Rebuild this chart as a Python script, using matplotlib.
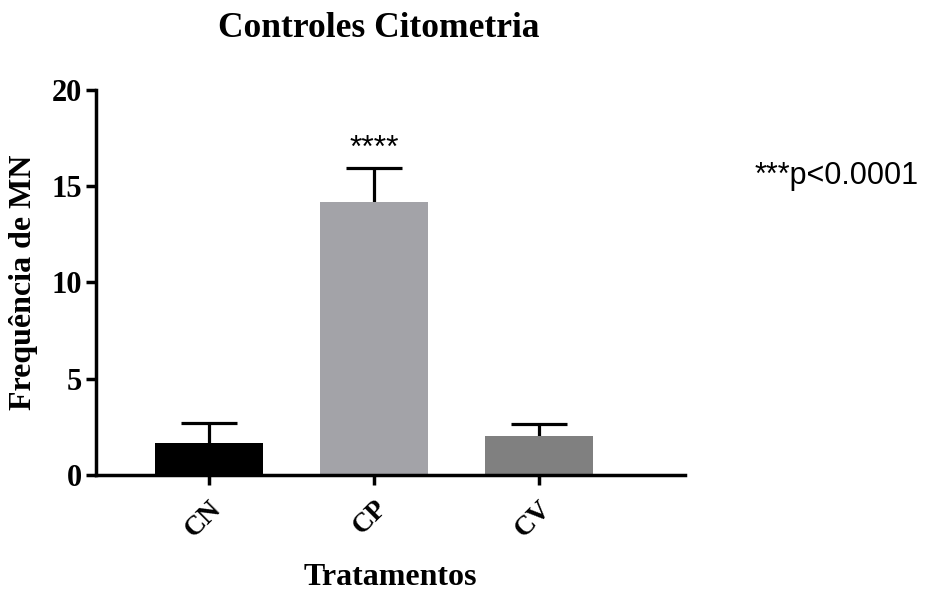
import matplotlib
matplotlib.use("Agg")
import matplotlib.pyplot as plt

# dados
grupos = ["CN", "CP", "CV"]
medias = [1.66, 14.18, 2.03]
erros = [1.05, 1.78, 0.62]
cores = ["#000000", "#a3a3a8", "#808080"]

serif = ["Liberation Serif", "DejaVu Serif"]
sans = ["Liberation Sans", "DejaVu Sans"]

fig = plt.figure(figsize=(9.25, 5.91), dpi=100)
ax = fig.add_axes([0.1038, 0.1963, 0.6367, 0.6514])

x = list(range(len(grupos)))
# barra desenhada por cima, esconde a metade de baixo do erro
ax.errorbar(x, medias, yerr=erros, fmt="none",
            ecolor="black", elinewidth=2.3, capsize=20, capthick=2.3, zorder=1)
ax.bar(x, medias, width=0.66, color=cores, zorder=2)

ax.set_xlim(-0.685, 2.885)
ax.set_ylim(0, 20)
ax.set_yticks([0, 5, 10, 15, 20])
ax.set_xticks(x)
ax.set_xticklabels(grupos, rotation=45, ha="right", va="top",
                   rotation_mode="anchor",
                   fontfamily=serif, fontweight="bold", fontsize=20)
for lab in ax.get_yticklabels():
    lab.set_fontfamily(serif)
    lab.set_fontweight("bold")
    lab.set_fontsize(22)

for s in ["top", "right"]:
    ax.spines[s].set_visible(False)
for s in ["left", "bottom"]:
    ax.spines[s].set_linewidth(2.5)
ax.tick_params(axis="y", width=2.5, length=7, direction="out", pad=3)
ax.tick_params(axis="x", width=2.5, length=7, direction="out", pad=8)

fig.text(0.409, 0.952, "Controles Citometria", ha="center", va="center",
         fontfamily=serif, fontweight="bold", fontsize=25.5)
ax.set_ylabel("Frequência de MN", fontfamily=serif, fontweight="bold",
              fontsize=23, labelpad=10)
ax.set_xlabel("Tratamentos", fontfamily=serif, fontweight="bold",
              fontsize=23, labelpad=15)

ax.text(1, medias[1] + erros[1] + 0.2, "****", ha="center", va="bottom",
        fontfamily=sans, fontsize=23)
fig.text(0.816, 0.703, "***p<0.0001", ha="left", va="center",
         fontfamily=sans, fontsize=22)

fig.savefig("out.png", dpi=100)
